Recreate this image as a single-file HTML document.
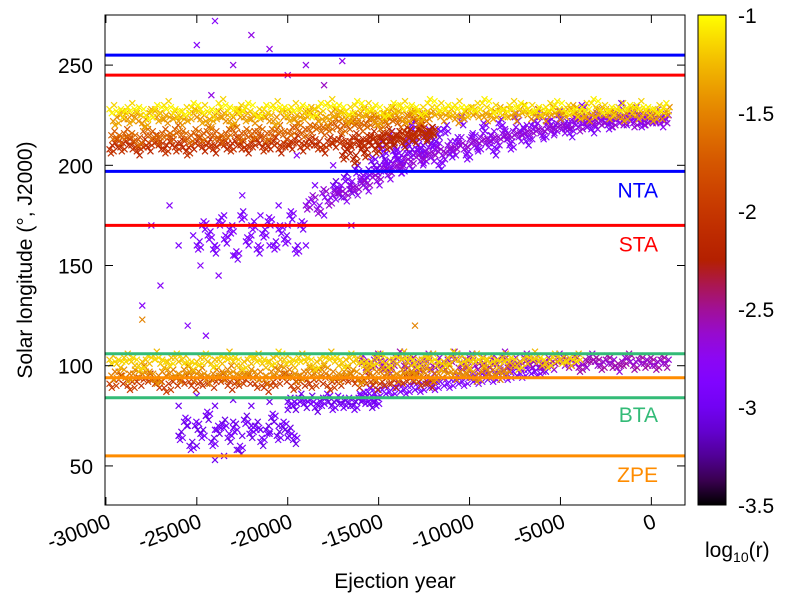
<!DOCTYPE html>
<html><head><meta charset="utf-8"><style>
body{margin:0;background:#fff;}
svg{display:block;font-family:"Liberation Sans","DejaVu Sans",sans-serif;}
</style></head><body>
<svg id="chart" width="800" height="600" viewBox="0 0 800 600" xmlns="http://www.w3.org/2000/svg">
<defs>
<linearGradient id="cbgrad" x1="0" y1="1" x2="0" y2="0"></linearGradient>
</defs>
<g id="points"></g>
<g id="lines"></g>
<rect x="105" y="15" width="580" height="490" fill="none" stroke="#000" stroke-width="1"/>
<g id="axes"></g>
<text transform="translate(32,260) rotate(-90)" text-anchor="middle" font-size="21">Solar longitude (°, J2000)</text>
<text x="395" y="588" text-anchor="middle" font-size="21">Ejection year</text>
<rect x="698" y="15" width="28" height="490" fill="url(#cbgrad)" stroke="#000" stroke-width="1"/>
<text x="705" y="557" font-size="21">log<tspan font-size="14" dy="5">10</tspan><tspan dy="-5">(r)</tspan></text>
</svg>
<script>
const xTicks=[-30000,-25000,-20000,-15000,-10000,-5000,0];
const yTicks=[50,100,150,200,250];
const cbTicks=[-1,-1.5,-2,-2.5,-3,-3.5];
const showerNames=["NTA","STA","BTA","ZPE"];
const showerLon=[[255,197],[245,170],[106,84],[94,55]];
const showerColors=["#0000ff","#ff0000","#33bb77","#ff8c00"];
const showerLabelLon=[188,161,76,46];
// tracks: [startYear, stepYears, log10r]; lon values below
const trackMeta=[[-29800,500,-1.1],[-29600,400,-1.4],[-29800,300,-2.1],[-29700,350,-1.7],[-19000,300,-2.7],[-15000,300,-2.9],[-29800,400,-1.2],[-29700,400,-1.5],[-29800,500,-2.0],[-16000,300,-2.6],[-16000,400,-2.9],[-20000,300,-3.0],[-25000,300,-2.9],[-26000,300,-3.0],[-17500,300,-3.0],[-17000,300,-2.2]];
const trackLon=[
[228,226,229,227,225,228,230,226,227,229,228,226,231,227,228,229,226,228,230,227,229,228,226,229,231,228,227,230,229,228,226,229,230,228,227,231,229,228,230,227,229,231,228,226,230,229,228,227,229,230,228,226,229,231,228,227,229,228,230,227,228,229],
[222,225,223,224,221,226,224,223,225,222,224,226,223,221,225,224,222,226,224,223,225,224,222,226,224,223,225,227,224,222,226,225,223,224,226,225,222,224,227,225,223,226,224,225,227,224,226,223,225,227,226,224,225,227,226,224,228,225,226,224,227,225,226,228,225,224,226,227,225,226,224,227,225,226,224,225,227],
[208,211,209,212,210,207,211,209,213,210,208,212,209,211,207,210,212,209,211,208,213,210,209,212,210,208,211,213,209,210,212,208,211,210,213,209,211,212,210,208,212,211,213,210,212,214,211,213,215,212,214,216,213,215,217,214,216,218,215,217],
[215,213,216,214,212,217,215,213,216,214,218,215,213,216,214,217,215,213,216,218,214,216,215,217,214,216,218,215,217,219,216,218,220,217,219,221,218,220,222,219,221,223,220,222,224,221,223,225,222,224],
[180,183,178,186,182,185,188,184,190,187,193,189,196,192,199,195,201,198,204,200,206,202,207,204,209,205,210,207,212,208,213,210,214,211,215,212,216,213,217,214,218,215,219,216,220,217,221,218,220,222,219,221,223,220,222,224,221,223,222,224,221,223,222,224,223,221,223],
[210,200,215,205,198,212,220,208,203,216,210,200,218,206,212,222,205,214,209,219,213,207,221,215,210,224,217,212,220,226,215,222,218,225,220,216,224,228,221,218,226,223,220,225,229,222,224,227,221,225,223,226,224],
[103,101,104,102,100,103,105,101,102,104,103,100,102,104,101,103,105,102,100,103,104,101,102,105,103,101,104,102,100,103,105,102,101,104,103,100,102,104,101,103,105,102,101,103,104,100,102,105,103,101,104,102,103,101,104,102,100,103,105,102,101,104,103,102,104],
[95,97,94,96,98,95,93,97,96,94,98,95,97,93,96,95,98,94,97,96,95,93,97,98,96,94,95,97,96,98,95,94,97,96,93,98,95,97,96,94,98,95,96,97,94,96,98,95,97,96,94,97,96,95,98],
[91,93,90,92,94,91,89,92,93,90,92,91,94,90,92,93,91,89,92,94,90,92,91,93,90,92,94,91,93,90,92,91,93,94,92,91],
[103,99,101,104,100,98,102,105,100,103,99,101,104,98,102,100,103,105,99,101,104,100,102,98,103,101,105,99,102,100,104,101,103,99,102,100,104,102,101,103,99,101,104,102,100,103,101,99,102,104,100,103,101,102,100,103,101],
[85,87,86,88,87,89,88,90,89,91,90,92,91,93,92,94,93,95,94,96,95,97,96,98,97,99],
[82,80,84,81,83,79,82,84,80,83,81,82,80,84,83,81,82],
[160,170,165,158,172,163,168,155,175,162,170,158,166,172,160,168,163,175,158,170],
[65,72,60,70,66,75,62,68,71,64,69,58,73,66,70,62,68,74,65,70,67,63],
[190,186,194,188,198,192,196,202,198,205,200,207,203,210,206,212,208,214,211,216],
[205,208,203,210,206,212,208,214,210,212,215,211,216,213,218,214,217]
];
const scatterYear=[-26000,-25500,-25000,-24500,-24000,-23500,-23000,-22500,-22000,-21500,-21000,-20500,-20000,-26000,-25000,-24000,-23000,-22000,-21000,-20000,-24000,-22800,-25500,-24500,-26000,-25200,-24000,-23000,-22000,-21000,-20000,-23500,-22500,-21500,-20500,-24800,-23800,-24200,-25000,-23000,-22000,-24000,-21000,-20000,-19000,-18000,-17000,-19500,-18500,-17500,-18000,-19000,-16500,-26500,-27000,-27500,-28000,-28000,-13000];
const scatterLon=[65,70,60,75,68,55,72,65,70,68,66,70,64,80,85,80,83,80,82,78,53,58,120,115,160,165,160,155,165,160,170,175,185,175,180,150,145,235,260,250,265,272,258,245,250,240,252,205,190,200,175,160,170,180,140,170,130,123,120];
const scatterLogr=[-3,-3,-3,-3,-2.9,-3,-3,-3,-3,-3,-3,-3,-3,-3,-2.9,-3,-3,-3,-3,-3,-3,-3,-2.8,-2.8,-2.9,-2.9,-2.9,-2.9,-2.9,-2.9,-2.9,-2.9,-2.9,-2.9,-2.9,-2.8,-2.8,-2.7,-2.8,-2.7,-2.7,-2.8,-2.7,-2.7,-2.7,-2.6,-2.7,-2.8,-2.9,-2.8,-2.9,-2.9,-2.9,-2.8,-2.8,-2.8,-2.8,-1.5,-1.5];

const NS="http://www.w3.org/2000/svg";
const X0=105,X1=685,Y0=15,Y1=505;
const xMin=-30050,xMax=1850,yMin=30.5,yMax=275;
function sx(v){return X0+(v-xMin)/(xMax-xMin)*(X1-X0);}
function sy(v){return Y1-(v-yMin)/(yMax-yMin)*(Y1-Y0);}
function cbY(v){return Y1-(v+3.5)/2.5*(Y1-Y0);}
function pal(v){let t=Math.max(0,Math.min(1,(v+3.5)/2.5));
 let r=Math.sqrt(t),g=t*t*t,b=Math.max(0,Math.sin(2*Math.PI*t));
 return `rgb(${Math.round(r*255)},${Math.round(g*255)},${Math.round(b*255)})`;}
const grad=document.getElementById('cbgrad');
for(let i=0;i<=20;i++){const s=document.createElementNS(NS,'stop');s.setAttribute('offset',i/20);s.setAttribute('stop-color',pal(-3.5+2.5*i/20));grad.appendChild(s);}
const P=document.getElementById('points');
function cross(x,y,c){const p=document.createElementNS(NS,'path');
 p.setAttribute('d',`M${x-3},${y-3}L${x+3},${y+3}M${x-3},${y+3}L${x+3},${y-3}`);
 p.setAttribute('stroke',c);p.setAttribute('stroke-width','1.2');
 
 
 P.appendChild(p);}
const order=[13,11,12,10,14,5,4,9,2,15,8,3,7,1,6,0];
const dup=[[0,0,0],[0.25,2,0.05],[0.5,-2,-0.05],[0.75,1,0.08]];
order.forEach(k=>{const m=trackMeta[k];trackLon[k].forEach((lon,i)=>{
 dup.forEach(d=>{const yr=m[0]+i*m[1]+d[0]*m[1]; if(yr>1000)return;
 cross(sx(yr),sy(lon+d[1]*((i%2)?1:-1)),pal(m[2]+d[2]));});});});
scatterYear.forEach((yr,i)=>cross(sx(yr),sy(scatterLon[i]),pal(scatterLogr[i])));
const L=document.getElementById('lines');
showerNames.forEach((n,i)=>{showerLon[i].forEach(v=>{const l=document.createElementNS(NS,'line');
 l.setAttribute('x1',X0);l.setAttribute('x2',X1);l.setAttribute('y1',sy(v));l.setAttribute('y2',sy(v));
 l.setAttribute('stroke',showerColors[i]);l.setAttribute('stroke-width','3');
 
 
 L.appendChild(l);});
 const t=document.createElementNS(NS,'text');t.setAttribute('x',658);t.setAttribute('y',sy(showerLabelLon[i])+8);
 t.setAttribute('text-anchor','end');t.setAttribute('font-size','21');t.setAttribute('fill',showerColors[i]);t.textContent=n;
 
 
 L.appendChild(t);});
const A=document.getElementById('axes');
function ln(x1,y1,x2,y2){const l=document.createElementNS(NS,'line');l.setAttribute('x1',x1);l.setAttribute('y1',y1);l.setAttribute('x2',x2);l.setAttribute('y2',y2);l.setAttribute('stroke','#000');
 
 
 A.appendChild(l);}
xTicks.forEach(v=>{const x=sx(v);ln(x,Y1,x,Y1-8);ln(x,Y0,x,Y0+8);
 const t=document.createElementNS(NS,'text');t.setAttribute('transform',`translate(${x+6},${Y1+22}) rotate(-20)`);
 t.setAttribute('text-anchor','end');t.setAttribute('font-size','21');t.textContent=v;
 
 
 A.appendChild(t);});
yTicks.forEach(v=>{const y=sy(v);ln(X0,y,X0+8,y);ln(X1,y,X1-8,y);
 const t=document.createElementNS(NS,'text');t.setAttribute('x',93);t.setAttribute('y',y+8);
 t.setAttribute('text-anchor','end');t.setAttribute('font-size','21');t.textContent=v;
 
 
 A.appendChild(t);});
cbTicks.forEach(v=>{const y=cbY(v);ln(698,y,704,y);ln(726,y,720,y);
 const t=document.createElementNS(NS,'text');t.setAttribute('x',738);t.setAttribute('y',y+8);
 t.setAttribute('font-size','21');t.textContent=v;
 
 
 A.appendChild(t);});
</script>
</body></html>
